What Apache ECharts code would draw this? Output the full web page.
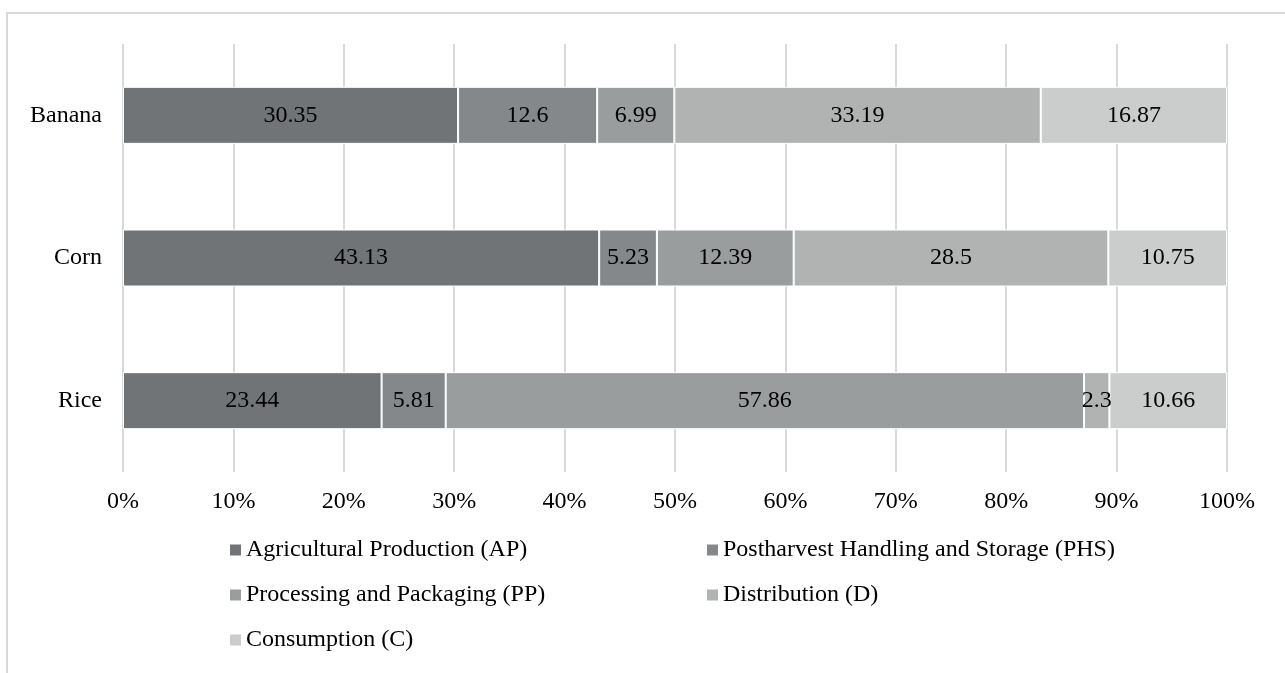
<!DOCTYPE html>
<html>
<head>
<meta charset="utf-8">
<title>Food loss share by supply chain stage</title>
<script src="https://cdn.jsdelivr.net/npm/echarts@6/dist/echarts.min.js"></script>
<style>
  html, body { margin: 0; padding: 0; background: #ffffff; }
  #chart { width: 1285px; height: 673px; }
</style>
</head>
<body>
<div id="chart"></div>
<script>
// Crops, bottom to top on the category axis
const crops = ['Rice', 'Corn', 'Banana'];

// Supply chain stages (series names)
const stages = [
  'Agricultural Production (AP)',
  'Postharvest Handling and Storage (PHS)',
  'Processing and Packaging (PP)',
  'Distribution (D)',
  'Consumption (C)'
];

// Values per stage, in the same order as crops (Rice, Corn, Banana)
const apValues  = [23.44, 43.13, 30.35];
const phsValues = [5.81, 5.23, 12.6];
const ppValues  = [57.86, 12.39, 6.99];
const dValues   = [2.3, 28.5, 33.19];
const cValues   = [10.66, 10.75, 16.87];

const xTickLabels = ['0%', '10%', '20%', '30%', '40%', '50%', '60%', '70%', '80%', '90%', '100%'];

const stageValues = [apValues, phsValues, ppValues, dValues, cValues];
const stageColors = ['#717476', '#85888a', '#9a9d9d', '#b1b3b3', '#cbcdcc'];

// 100% stacked: each bar is scaled to its crop's total
const totals = crops.map((_, i) => stageValues.reduce((s, arr) => s + arr[i], 0));

const FONT = '"Liberation Serif", "Times New Roman", serif';
const FS = 24;

const series = stages.map((name, k) => ({
  name: name,
  type: 'bar',
  stack: 'total',
  barWidth: 57,
  itemStyle: { color: stageColors[k], borderColor: '#ffffff', borderWidth: 1 },
  label: {
    show: true,
    position: 'inside',
    color: '#000000',
    fontFamily: FONT,
    fontSize: FS,
    formatter: p => String(stageValues[k][p.dataIndex])
  },
  emphasis: { disabled: true },
  data: stageValues[k].map((v, i) => v / totals[i] * 100)
}));

// Legend laid out in two columns, one legend per entry
const legendSlots = [
  { left: 228, top: 538 },
  { left: 705, top: 538 },
  { left: 228, top: 583 },
  { left: 705, top: 583 },
  { left: 228, top: 628 }
];
const legends = stages.map((name, k) => ({
  data: [name],
  left: legendSlots[k].left,
  top: legendSlots[k].top,
  padding: 0,
  icon: 'rect',
  itemWidth: 13,
  itemHeight: 13,
  itemGap: 0,
  selectedMode: false,
  textStyle: { fontFamily: FONT, fontSize: FS, color: '#000000', padding: [0, 0, 0, -1] }
}));

const chart = echarts.init(document.getElementById('chart'), null, { renderer: 'canvas' });
chart.setOption({
  animation: false,
  backgroundColor: '#ffffff',
  textStyle: { fontFamily: FONT },
  graphic: [{
    type: 'rect',
    shape: { x: 7, y: 13, width: 1300, height: 700 },
    style: { fill: 'none', stroke: '#d9d9d9', lineWidth: 2 },
    silent: true
  }],
  grid: { left: 123, right: 58, top: 44, height: 428, containLabel: false },
  xAxis: {
    type: 'value',
    min: 0,
    max: 100,
    interval: 10,
    axisLine: { show: false },
    axisTick: { show: false },
    splitLine: { show: true, lineStyle: { color: '#d9d9d9', width: 2 } },
    axisLabel: {
      fontFamily: FONT,
      fontSize: FS,
      color: '#000000',
      margin: 18,
      formatter: v => xTickLabels[Math.round(v / 10)]
    }
  },
  yAxis: {
    type: 'category',
    data: crops,
    axisLine: { show: false },
    axisTick: { show: false },
    axisLabel: { fontFamily: FONT, fontSize: FS, color: '#000000', margin: 21 }
  },
  legend: legends,
  series: series
});
</script>
</body>
</html>
